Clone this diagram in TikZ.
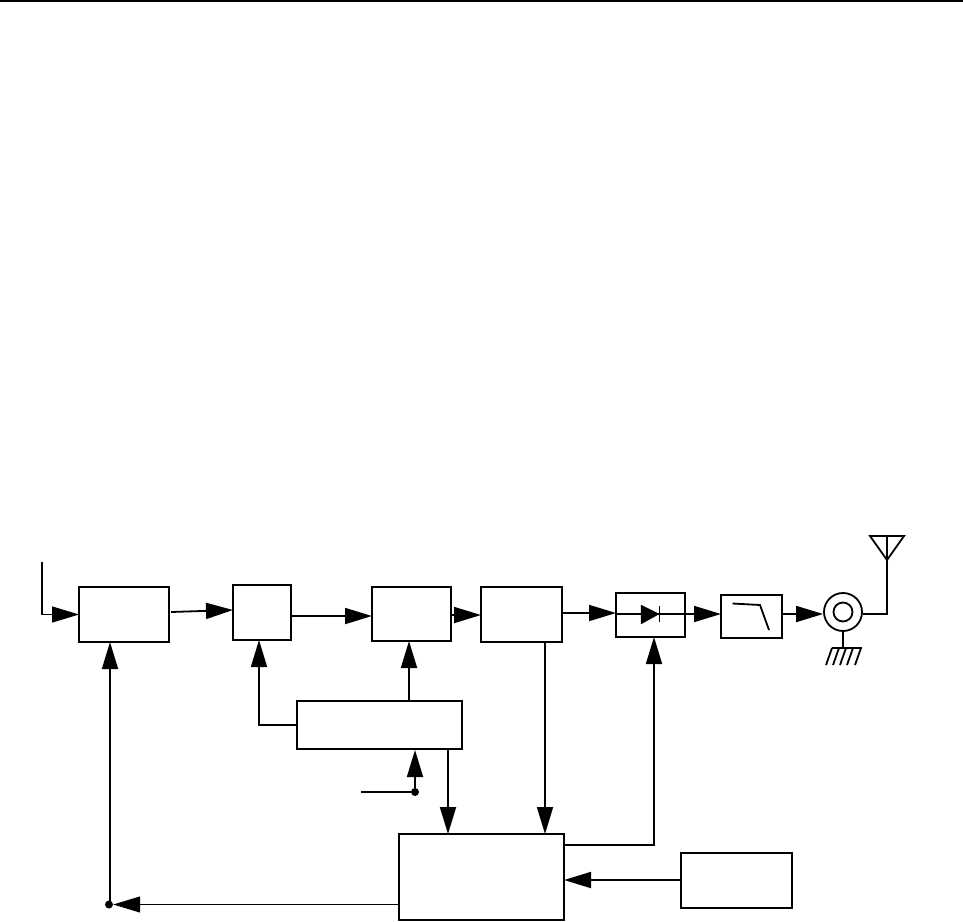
\documentclass[tikz,border=0pt]{standalone}
\usetikzlibrary{arrows.meta}
\tikzset{
  blockbox/.style={draw,line width=1.9pt,fill=white,inner sep=0pt,outer sep=0pt},
  sig/.style={line width=1.8pt,-{Triangle[length=27pt,width=16pt]},shorten >=0pt},
  wire/.style={line width=1.8pt},
  thinwire/.style={line width=1.3pt,-{Triangle[length=27pt,width=16pt]}},
  junction/.style={circle,fill=black,inner sep=0pt,minimum size=8pt},
}
\begin{document}
\begin{tikzpicture}[x=1pt,y=-1pt]
\useasboundingbox (0,0) rectangle (963,921);
\coordinate (ruleL) at (0,1); \coordinate (ruleR) at (963,1);
\draw[line width=2pt] (ruleL) -- (ruleR);
% blocks
\node[blockbox,minimum width=90pt,minimum height=55pt] (a) at (124,614.5) {};
\node[blockbox,minimum width=58pt,minimum height=55pt] (b) at (262,612.5) {};
\node[blockbox,minimum width=79pt,minimum height=54pt] (c) at (411.5,614) {};
\node[blockbox,minimum width=81pt,minimum height=55pt] (d) at (521.5,614.5) {};
\node[blockbox,minimum width=69pt,minimum height=44pt] (e) at (650.5,615) {};
\node[blockbox,minimum width=61pt,minimum height=43pt] (f) at (751.5,616.5) {};
\node[blockbox,line width=1.6pt,minimum width=165pt,minimum height=48pt] (m) at (379.5,725) {};
\node[blockbox,minimum width=165pt,minimum height=86pt] (g) at (481.5,877) {};
\node[blockbox,minimum width=111pt,minimum height=55pt] (h) at (736.5,880.5) {};
\node[draw,circle,line width=1.8pt,minimum size=38pt,inner sep=0pt] (co) at (843,612) {};
\node[draw,circle,line width=1.8pt,minimum size=19pt,inner sep=0pt] (coin) at (843,612) {};
% free ends and junctions
\coordinate (in) at (42,562);
\node[junction] (j1) at (109,904.5) {};
\node[junction] (j2) at (415,792) {};
\coordinate (ctl) at (361,792);
% horizontal chain
\draw[wire,line width=1.4pt,-{Triangle[length=27pt,width=16pt]}] (in) |- (a.west);
\coordinate (a1) at (171,612); \coordinate (b1) at (233,610);
\draw[sig] (a1) -- (b1);
\coordinate (b2) at (291,616); \coordinate (c1) at (372,616);
\draw[sig] (b2) -- (c1);
\coordinate (c2) at (451,615); \coordinate (d1) at (481,615);
\draw[sig] (c2) -- (d1);
\coordinate (d2) at (562,613); \coordinate (e1) at (616,613);
\draw[sig] (d2) -- (e1);
\coordinate (e2) at (685,614); \coordinate (f1) at (721,614);
\draw[sig] (e2) -- (f1);
\coordinate (f2) at (782,614);
\draw[sig] (f2) -- (co.west |- f2);
% diode inside mixer
\coordinate (dl) at (616,614); \coordinate (dr) at (659,614);
\draw[wire] (dl) -- (e2);
\draw[fill=black] (641,605) -- (659,614) -- (641,624) -- cycle;
\draw[line width=1pt] (659,606) -- (659,622);
% filter symbol
\draw[wire] (732.5,603.5) -- (760,605) -- (769,630);
% coax and antenna
\coordinate (anT) at (887,536);
\draw[wire] (co.east |- f2) -| (anT);
\draw[wire,line join=miter] (870,536) -- (904,536) -- (887,560) -- cycle;
% ground
\coordinate (gnd) at (843,648);
\draw[wire] (co.south) -- (gnd);
\draw[wire] (832,648) -- (862,648);
\foreach \x in {832,839,846,853,861}
  \draw[wire] (\x,648) -- (\x-6,665);
% verticals
\coordinate (j1v) at (110,904);
\draw[sig] (j1v) -- (j1v |- a.south);
\coordinate (b3) at (259,640);
\draw[wire,-{Triangle[length=27pt,width=16pt]}] (m.west) -| (b3);
\coordinate (mt) at (409,701); \coordinate (c3) at (409,641);
\draw[sig] (mt) -- (c3);
\draw[wire] (ctl) -- (j2);
\draw[sig] (j2) -- (415,750);
\coordinate (mb) at (448,749); \coordinate (gt) at (448,834);
\draw[sig] (mb) -- (gt);
\coordinate (d3) at (545,642); \coordinate (gt2) at (545,834);
\draw[sig] (d3) -- (gt2);
\coordinate (g1) at (564,845); \coordinate (e3) at (654,637);
\draw[wire,-{Triangle[length=27pt,width=16pt]}] (g1) -| (e3);
\draw[sig] (h.west |- 0,880) -- (g.east |- 0,880);
\draw[thinwire] (g.west |- j1) -- (j1);
\end{tikzpicture}
\end{document}
